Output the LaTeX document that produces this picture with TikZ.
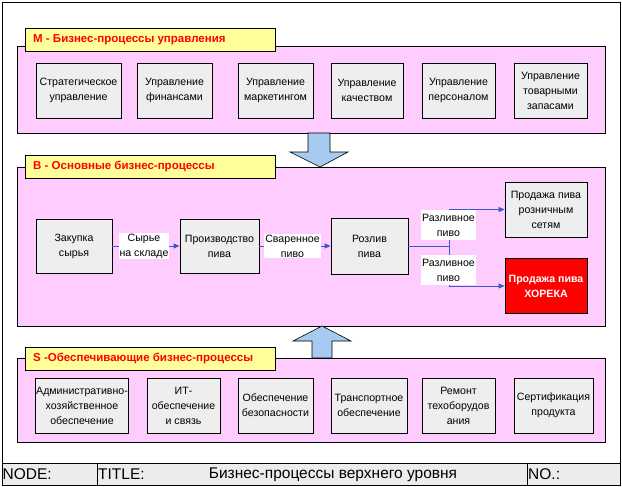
\documentclass[tikz,border=0pt]{standalone}
\usepackage{fontspec}
\setmainfont{Liberation Sans}
\usetikzlibrary{arrows.meta}
\definecolor{pinkbg}{RGB}{255,204,255}
\definecolor{yellowbg}{RGB}{255,255,153}
\definecolor{boxgray}{RGB}{238,238,238}
\definecolor{arrowblue}{RGB}{166,202,240}
\definecolor{linkblue}{RGB}{60,90,200}
\definecolor{stripgray}{RGB}{236,236,236}
\tikzset{
  panel/.style={draw=black, line width=0.8pt, fill=pinkbg},
  tag/.style={draw=black, line width=0.8pt, fill=yellowbg},
  tagtext/.style={anchor=west, inner sep=0pt, text=red, font=\fontsize{11.5}{13}\selectfont\bfseries},
  procbox/.style={draw=black, line width=0.8pt, fill=boxgray, align=center, inner sep=1pt,
    font=\fontsize{10.6}{15}\selectfont, minimum height=55},
  redbox/.style={draw=black, line width=0.8pt, fill=red, text=white, align=center, inner sep=1pt,
    font=\fontsize{10.6}{15}\selectfont\bfseries, minimum height=55, minimum width=82},
  lbl/.style={fill=white, align=center, inner sep=1pt, font=\fontsize{10.6}{15}\selectfont},
  link/.style={draw=linkblue, line width=0.7pt},
  linkarrow/.style={link, -{Triangle[length=6pt,width=5pt]}},
  bigarrow/.style={draw=black, line width=0.6pt, fill=arrowblue},
  striptext/.style={font=\fontsize{15.5}{17}\selectfont, inner sep=0pt}
}
\begin{document}
\begin{tikzpicture}[x=1pt,y=-1pt]
\useasboundingbox (0,0) rectangle (622,487);
% outer frame and title strip
\draw[line width=0.8pt, fill=white] (2,2) rectangle (620,485);
\draw[line width=0.8pt, fill=stripgray] (2,463) rectangle (620,485);
\draw[line width=0.8pt] (97,463) -- (97,485) (527,463) -- (527,485);
\node[striptext, anchor=west] (node) at (2.5,474.5) {NODE:};
\node[striptext, anchor=west] (titlel) at (98,474.5) {TITLE:};
\node[striptext] (title) at (333,474.5) {Бизнес-процессы верхнего уровня};
\node[striptext, anchor=west] (no) at (528,474.5) {NO.:};

% ===== M section =====
\draw[panel] (17,46) rectangle (605,133);
\draw[tag] (25,28) rectangle (275,51);
\node[tagtext] (mtitle) at (33,39.5) {M - Бизнес-процессы управления};
\node[procbox, minimum width=85] (m1) at (78.5,90.5) {Стратегическое\\управление};
\node[procbox, minimum width=75] (m2) at (174.5,90.5) {Управление\\финансами};
\node[procbox, minimum width=75] (m3) at (275.5,90.5) {Управление\\маркетингом};
\node[procbox, minimum width=72] (m4) at (367,90.5) {Управление\\качеством};
\node[procbox, minimum width=73] (m5) at (458.5,90.5) {Управление\\персоналом};
\node[procbox, minimum width=73] (m6) at (550.5,90.5) {Управление\\товарными\\запасами};

% down arrow
\draw[bigarrow] (308,133) -- (330,133) -- (330,152) -- (348,152) -- (320,167) -- (290,152) -- (308,152) -- cycle;

% ===== B section =====
\draw[panel] (17,167) rectangle (605,326);
\draw[tag] (25,155) rectangle (275,178);
\node[tagtext] (btitle) at (33,166.5) {B - Основные бизнес-процессы};
\node[procbox, minimum width=76, minimum height=54] (b1) at (74,246) {Закупка\\сырья};
\node[procbox, minimum width=79, minimum height=54] (b2) at (219.5,246) {Производство\\пива};
\node[procbox, minimum width=77, minimum height=56] (b3) at (369.5,246) {Розлив\\пива};
\node[procbox, minimum width=82] (b4) at (546,209.5) {Продажа пива\\розничным\\сетям};
\node[redbox] (b5) at (546,286) {Продажа пива\\ХОРЕКА};

\draw[linkarrow] (b1.east) -- (b2.west);
\node[lbl] (l1) at (144,246) {Сырье\\на складе};
\draw[linkarrow] (b2.east) -- (b3.west);
\node[lbl] (l2) at (292.5,246) {Сваренное\\пиво};
\coordinate (split) at (449,246);
\draw[link] (b3.east) -- (split);
\draw[linkarrow] (split) |- (b4.west);
\draw[linkarrow] (split) |- (b5.west);
\node[lbl, minimum width=54, minimum height=30] (l3) at (448.5,225) {Разливное\\пиво};
\node[lbl, minimum width=54, minimum height=30] (l4) at (448.5,270) {Разливное\\пиво};

% up arrow
\draw[bigarrow] (312,358) -- (332,358) -- (332,341) -- (351,341) -- (322,326) -- (293,341) -- (312,341) -- cycle;

% ===== S section =====
\draw[panel] (17,358) rectangle (605,442);
\draw[tag] (25,347) rectangle (275,370);
\node[tagtext] (stitle) at (33,358.5) {S -Обеспечивающие бизнес-процессы};
\node[procbox, minimum width=92] (s1) at (82,405.5) {Административно-\\хозяйственное\\обеспечение};
\node[procbox, minimum width=73] (s2) at (183.5,405.5) {ИТ-\\обеспечение\\и связь};
\node[procbox, minimum width=75] (s3) at (275.5,405.5) {Обеспечение\\безопасности};
\node[procbox, minimum width=76] (s4) at (369,405.5) {Транспортное\\обеспечение};
\node[procbox, minimum width=73] (s5) at (458.5,405.5) {Ремонт\\техоборудов\\ания};
\node[procbox, minimum width=79] (s6) at (553.5,405.5) {Сертификация\\продукта};
\end{tikzpicture}
\end{document}
